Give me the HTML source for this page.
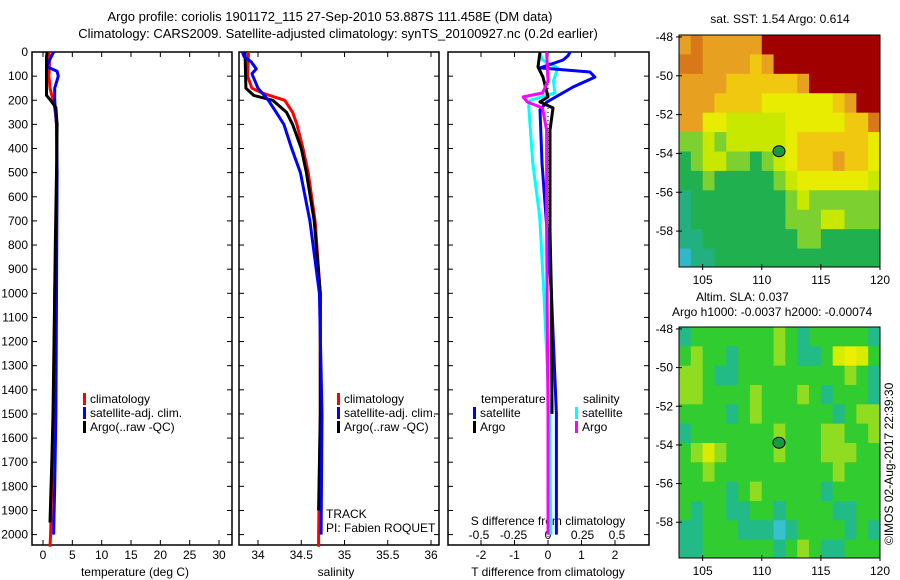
<!DOCTYPE html>
<html><head><meta charset="utf-8">
<style>
html,body{margin:0;padding:0;background:#fff;}
svg{display:block;font-family:"Liberation Sans",sans-serif;font-size:12px;}
</style></head>
<body>
<svg id="c" width="900" height="580" viewBox="0 0 900 580">
<text x="330" y="21" text-anchor="middle" font-size="13">Argo profile: coriolis 1901172_115 27-Sep-2010 53.887S 111.458E (DM data)</text>
<text x="338" y="38" text-anchor="middle" font-size="13">Climatology: CARS2009. Satellite-adjusted climatology: synTS_20100927.nc (0.2d earlier)</text>
<text x="780" y="23" text-anchor="middle">sat. SST: 1.54  Argo: 0.614</text>
<text x="696" y="301">Altim. SLA: 0.037</text>
<text x="672" y="316">Argo h1000: -0.0037 h2000: -0.00074</text>
<text transform="translate(893,545) rotate(-90)">©IMOS 02-Aug-2017 22:39:30</text>
</svg>
<script>
// ---- data ----
const depthTicks=[0,100,200,300,400,500,600,700,800,900,1000,1100,1200,1300,1400,1500,1600,1700,1800,1900,2000];
const tempTicks=[0,5,10,15,20,25,30];
const salTicks=[34,34.5,35,35.5,36];
const salTickLabels=["34","34.5","35","35.5","36"];
const tdTicks=[-2,-1,0,1,2];
const sdTicks=[-0.5,-0.25,0,0.25,0.5];
const sdTickLabels=["-0.5","-0.25","0","0.25","0.5"];

const climTempDepth=[0,50,100,150,180,200,250,300,500,800,1000,1500,2000,2050];
const climTemp=[1.0,1.1,1.0,1.2,1.5,1.8,2.1,2.3,2.4,2.2,2.0,1.8,1.3,1.2];
const argoTempDepth=[0,20,100,180,200,230,300,500,800,1000,1500,1700,1950];
const argoTemp=[0.7,0.6,0.6,0.6,1.3,2.2,2.4,2.3,2.1,2.0,1.7,1.5,1.2];
const satTempDepth=[0,30,60,80,100,150,200,300,500,1000,1500,1800,2000];
const satTemp=[1.8,1.2,0.6,2.4,2.6,2.0,2.0,2.3,2.4,2.3,2.2,2.0,1.8];

const climSalDepth=[0,100,150,170,200,250,300,400,500,700,1000,1500,2000,2050];
const climSal=[33.89,33.88,33.93,34.05,34.31,34.40,34.45,34.52,34.58,34.66,34.72,34.72,34.70,34.70];
const argoSalDepth=[0,150,180,200,250,300,400,500,700,1000,1500,1900];
const argoSal=[33.85,33.86,33.95,34.17,34.33,34.40,34.50,34.56,34.65,34.72,34.72,34.70];
const satSalDepth=[0,20,40,70,90,150,200,250,300,400,500,700,1000,1500,2000];
const satSal=[33.82,33.84,33.92,33.98,33.93,34.00,34.12,34.21,34.30,34.39,34.49,34.60,34.71,34.74,34.73];

const tdSatDepth=[0,15,33,66,83,104,145,207,240,460,740,1000,1500,2000];
const tdSat=[0.66,0.6,0.45,-0.24,1.25,1.4,0.75,-0.03,-0.24,-0.18,-0.03,0.1,0.25,0.25];
const tdArgoDepth=[0,62,104,186,207,232,324,740,1000,1500];
const tdArgo=[-0.24,-0.3,-0.15,0.0,-0.24,0.15,0.06,0.06,0.1,0.12];
const sdSatDepth=[0,33,66,120,170,200,224,460,684,1000,1500,2000];
const sdSat=[-0.06,-0.04,0.07,0.04,0.05,-0.13,-0.14,-0.11,-0.06,-0.03,0.01,0.02];
const sdArgoDepth=[0,120,170,186,207,232,324,740,1500,2000];
const sdArgo=[-0.01,0,-0.04,-0.18,-0.15,-0.04,-0.01,-0.01,0.0,0.0];

const mapLonTicks=[105,110,115,120];
const mapLatTicks=[-48,-50,-52,-54,-56,-58];
const gridLon=[103,104,105,106,107,108,109,110,111,112,113,114,115,116,117,118,119];
const gridLat=[-48,-49,-50,-51,-52,-53,-54,-55,-56,-57,-58,-59];
const sstGrid=[
[7,8,7,7,7,7,7,10,10,10,10,10,10,10,10,10,10],
[8,8,7,7,7,7,6,7,10,10,10,10,10,10,10,10,10],
[7,7,7,7,6,6,6,6,6,6,7,10,10,10,10,10,10],
[7,7,7,6,6,6,6,5,5,5,5,5,5,6,7,10,10],
[7,7,5,5,4,4,4,4,4,5,5,5,5,5,6,6,8],
[3,3,4,3,4,4,4,4,4,5,6,6,6,6,6,6,5],
[2,3,4,4,3,3,2,3,4,5,6,6,6,7,6,6,5],
[2,2,3,2,2,2,2,2,3,4,5,5,5,5,5,5,4],
[1,2,2,2,2,2,2,2,2,3,4,3,3,3,3,3,3],
[1,2,2,2,2,2,2,2,2,3,3,3,4,4,3,3,3],
[1,1,2,2,2,2,2,2,2,2,3,3,2,2,2,2,2],
[0,1,1,2,2,2,2,2,2,2,2,2,2,2,2,2,2]];
const slaGrid=[
[1,2,2,2,2,2,2,2,3,2,1,2,2,2,2,2,1],
[2,3,2,2,1,2,2,2,3,2,1,1,2,4,5,4,2],
[3,3,2,1,1,2,2,2,2,2,2,2,2,2,3,2,1],
[3,3,2,2,2,2,3,2,2,2,3,2,1,2,2,2,1],
[2,2,2,2,1,2,3,2,2,2,2,2,2,1,2,3,3],
[1,2,2,2,2,2,2,2,3,2,2,2,3,3,2,2,3],
[2,3,4,3,2,2,2,2,3,2,2,2,3,3,3,2,2],
[2,2,3,2,2,2,2,2,2,2,2,2,2,3,2,2,2],
[2,2,2,2,1,2,3,2,2,2,2,2,1,2,2,2,2],
[2,1,2,2,1,1,2,2,1,2,2,2,2,1,1,2,2],
[1,1,2,2,2,1,1,1,0,1,2,2,2,2,1,2,1],
[1,1,2,2,2,2,2,2,1,2,3,2,1,1,2,2,2]];
const argoLon=111.458, argoLat=-53.887;

// ---- drawing ----
const svg=document.getElementById('c');
const NS='http://www.w3.org/2000/svg';
function mk(tag,attrs,parent){const e=document.createElementNS(NS,tag);for(const k in attrs)e.setAttribute(k,attrs[k]);(parent||svg).appendChild(e);return e;}
const PT=52,PB=545;
const yD=d=>52+d*0.2413;
const xT=v=>43+v*5.867;
const xS=v=>258+(v-34)*86.5;
const xTD=v=>548+v*33.5;
const xSD=v=>548+v*138;

function panel(x0,x1,name){
  const r=mk('rect',{x:x0,y:PT,width:x1-x0,height:PB-PT,fill:'none',stroke:'#000','stroke-width':1.5});
  
  
  depthTicks.forEach(d=>{
    const t1=mk('line',{x1:x0,x2:x0+5,y1:yD(d),y2:yD(d),stroke:'#000'});
    
    
    const t2=mk('line',{x1:x1-5,x2:x1,y1:yD(d),y2:yD(d),stroke:'#000'});
    
    
  });
}
panel(32,232,'temperature-panel');
panel(239,439,'salinity-panel');
panel(448,649,'difference-panel');
depthTicks.forEach(d=>{
  const t=mk('text',{x:28,y:yD(d)+4,'text-anchor':'end'});t.textContent=d;
  
  
});
function xticks(vals,labels,fx,ly,name,topTick){
  vals.forEach((v,i)=>{
    const x=fx(v);
    const a=mk('line',{x1:x,x2:x,y1:PB-5,y2:PB,stroke:'#000'});
    
    
    if(topTick){const b=mk('line',{x1:x,x2:x,y1:PT,y2:PT+5,stroke:'#000'});
      
      }
    const t=mk('text',{x:x,y:ly,'text-anchor':'middle'});t.textContent=labels[i];
    
    
  });
}
xticks(tempTicks,tempTicks.map(String),xT,559,'temperature',true);
xticks(salTicks,salTickLabels,xS,559,'salinity',true);
xticks(tdTicks,tdTicks.map(String),xTD,559,'t-difference',true);
sdTicks.forEach((v,i)=>{
  const t=mk('text',{x:xSD(v),y:539,'text-anchor':'middle'});t.textContent=sdTickLabels[i];
  
  
});
function label(x,y,txt,name,anchor){const t=mk('text',{x:x,y:y,'text-anchor':anchor||'start'});t.textContent=txt;
  
  return t;}
label(135,576,'temperature (deg C)','x-axis-title-temperature','middle');
label(336,576,'salinity','x-axis-title-salinity','middle');
label(548,576,'T difference from climatology','x-axis-title-t-difference','middle');
label(548,525,'S difference from climatology','x-axis-title-s-difference','middle');
label(326,518,'TRACK','track-label');
label(326,532,'PI: Fabien ROQUET','pi-label');

const z=mk('line',{x1:xTD(0),x2:xTD(0),y1:PT,y2:PB,stroke:'#000','stroke-dasharray':'1,3'});



function series(depths,vals,fx,color,name){
  const pts=depths.map((d,i)=>fx(vals[i]).toFixed(1)+','+yD(d).toFixed(1)).join(' ');
  const p=mk('polyline',{points:pts,fill:'none',stroke:color,'stroke-width':3,'stroke-linejoin':'round'});
  
  
}
series(climTempDepth,climTemp,xT,'#f00','climatology-temperature-line');
series(satTempDepth,satTemp,xT,'#00f','satellite-temperature-line');
series(argoTempDepth,argoTemp,xT,'#000','argo-temperature-line');
series(climSalDepth,climSal,xS,'#f00','climatology-salinity-line');
series(argoSalDepth,argoSal,xS,'#000','argo-salinity-line');
series(satSalDepth,satSal,xS,'#00f','satellite-salinity-line');
series(sdSatDepth,sdSat,xSD,'#0ff','salinity-satellite-diff-line');
series(tdSatDepth,tdSat,xTD,'#00f','temperature-satellite-diff-line');
series(tdArgoDepth,tdArgo,xTD,'#000','temperature-argo-diff-line');
series(sdArgoDepth,sdArgo,xSD,'#f0f','salinity-argo-diff-line');

function legendEntry(x,y,color,txt,name){
  const r=mk('rect',{x:x,y:y-10,width:3,height:12,fill:color});
  
  
  label(x+7,y,txt,name);
}
legendEntry(83,403,'#f00','climatology','legend-climatology');
legendEntry(83,417,'#00f','satellite-adj. clim.','legend-satellite');
legendEntry(83,431,'#000','Argo(..raw -QC)','legend-argo');
legendEntry(337,403,'#f00','climatology','legend-climatology-sal');
legendEntry(337,417,'#00f','satellite-adj. clim.','legend-satellite-sal');
legendEntry(337,431,'#000','Argo(..raw -QC)','legend-argo-sal');
label(481,403,'temperature','legend-temperature-heading');
legendEntry(473,417,'#00f','satellite','legend-t-satellite');
legendEntry(473,431,'#000','Argo','legend-t-argo');
label(583,403,'salinity','legend-salinity-heading');
legendEntry(575,417,'#0ff','satellite','legend-s-satellite');
legendEntry(575,431,'#f0f','Argo','legend-s-argo');

// maps
const sstCmap=['#30b8c8','#22b080','#20b050','#7cd030','#c8e800','#e8ec00','#f0c810','#e8a020','#d87818','#c03800','#a00000'];
const slaCmap=['#38c0d0','#22bb88','#30cc30','#90dc20','#d8ec00','#eeee00','#f0c400','#e89a18','#d07818','#c03800','#a00000'];
function drawMap(grid,cmap,top,bottom,name){
  const left=679,right=880;
  const mx=v=>left+(v-103)*(right-left)/17;
  const my=v=>top+(-47.9-v)*(bottom-top)/11.95;
  const g=mk('g',{});
  
  
  grid.forEach((row,i)=>row.forEach((v,j)=>{
    const lat=gridLat[i],lon=gridLon[j];
    const x0=mx(lon),y0=Math.max(top,my(lat+0.1)),x1=mx(lon+1),y1=Math.min(bottom,my(lat-1+0.1));
    const c=mk('rect',{x:x0,y:y0,width:x1-x0+0.5,height:y1-y0+0.5,fill:cmap[v]},g);
    
    
  }));
  const fr=mk('rect',{x:left,y:top,width:right-left,height:bottom-top,fill:'none',stroke:'#000'});
  
  
  mapLatTicks.forEach(v=>{
    label(673,my(v)+4,String(v),'map-lat-tick-label','end');
    const l=mk('line',{x1:left-3,x2:left+3,y1:my(v),y2:my(v),stroke:'#000'});
    
    
  });
  mapLonTicks.forEach(v=>{
    label(mx(v),bottom+17,String(v),'map-lon-tick-label','middle');
    const l=mk('line',{x1:mx(v),x2:mx(v),y1:bottom-3,y2:bottom+3,stroke:'#000'});
    
    
  });
  const c=mk('ellipse',{cx:mx(argoLon),cy:my(argoLat),rx:6,ry:5.5,fill:'#1a9a40',stroke:'#000'});
  
  
}
drawMap(sstGrid,sstCmap,35,267,'sst-map');
drawMap(slaGrid,slaCmap,327,558,'sla-map');
</script>
</body></html>
